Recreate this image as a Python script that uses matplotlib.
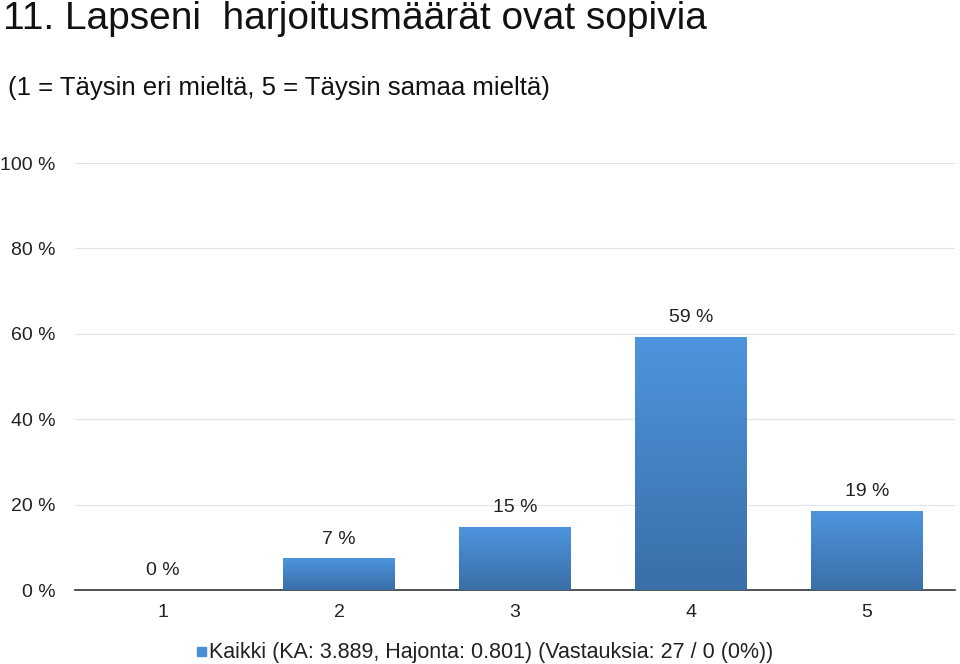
import matplotlib
matplotlib.use("Agg")
import matplotlib.pyplot as plt
import numpy as np
from matplotlib.patches import Rectangle

plt.rcParams["font.family"] = "Liberation Sans"

categories = ["1", "2", "3", "4", "5"]
values = [0.0, 7.4, 14.8, 59.3, 18.5]
labels = ["0 %", "7 %", "15 %", "59 %", "19 %"]
yticks = [0, 20, 40, 60, 80, 100]
legend_label = "Kaikki (KA: 3.889, Hajonta: 0.801) (Vastauksia: 27 / 0 (0%))"

fig = plt.figure(figsize=(9.6, 6.64), dpi=100)
ax = fig.add_axes([0.078, 0.1114, 0.917, 0.6431])
x = np.arange(len(categories))
w = 0.636

grad = np.linspace(0, 1, 256).reshape(-1, 1)
cmap = matplotlib.colors.LinearSegmentedColormap.from_list("g", ["#3a6fa8", "#4d95dd"])
for xi, v, lab in zip(x, values, labels):
    if v > 0:
        im = ax.imshow(grad, extent=[xi - w/2, xi + w/2, 0, v], origin="lower",
                       cmap=cmap, aspect="auto", zorder=3)
        r = Rectangle((xi - w/2, 0), w, v, transform=ax.transData)
        im.set_clip_path(r)
    ax.text(xi, v + 2.5, lab, ha="center", va="bottom", fontsize=14, color="#222222")
ax.set_aspect("auto")
ax.set_xlim(-0.5, len(categories) - 0.5)
ax.set_ylim(0, 100)

ax.set_yticks(yticks)
ax.set_yticklabels([f"{t} %" for t in yticks], fontsize=14, color="#222222")
ax.set_xticks(x)
ax.set_xticklabels(categories, fontsize=14, color="#222222")
ax.tick_params(length=0, pad=10)
ax.tick_params(axis="y", pad=14)
for t in yticks[1:]:
    ax.axhline(t, color="#dde5ee", lw=0.8, zorder=1)
for s in ["top", "right", "left"]:
    ax.spines[s].set_visible(False)
ax.spines["bottom"].set_color("#333333")
ax.spines["bottom"].set_linewidth(1.2)

fig.text(0.003, 0.972, "11. Lapseni  harjoitusmäärät ovat sopivia", fontsize=28, va="center", color="#111111")
fig.text(0.008, 0.868, "(1 = Täysin eri mieltä, 5 = Täysin samaa mieltä)", fontsize=18.5, va="center", color="#111111")
fig.patches.append(Rectangle((0.205, 0.012), 0.0095, 0.014, transform=fig.transFigure, color="#4a8fd6"))
fig.text(0.218, 0.018, legend_label, fontsize=15.5, va="center", color="#222222")

fig.savefig("out.png", dpi=100)
